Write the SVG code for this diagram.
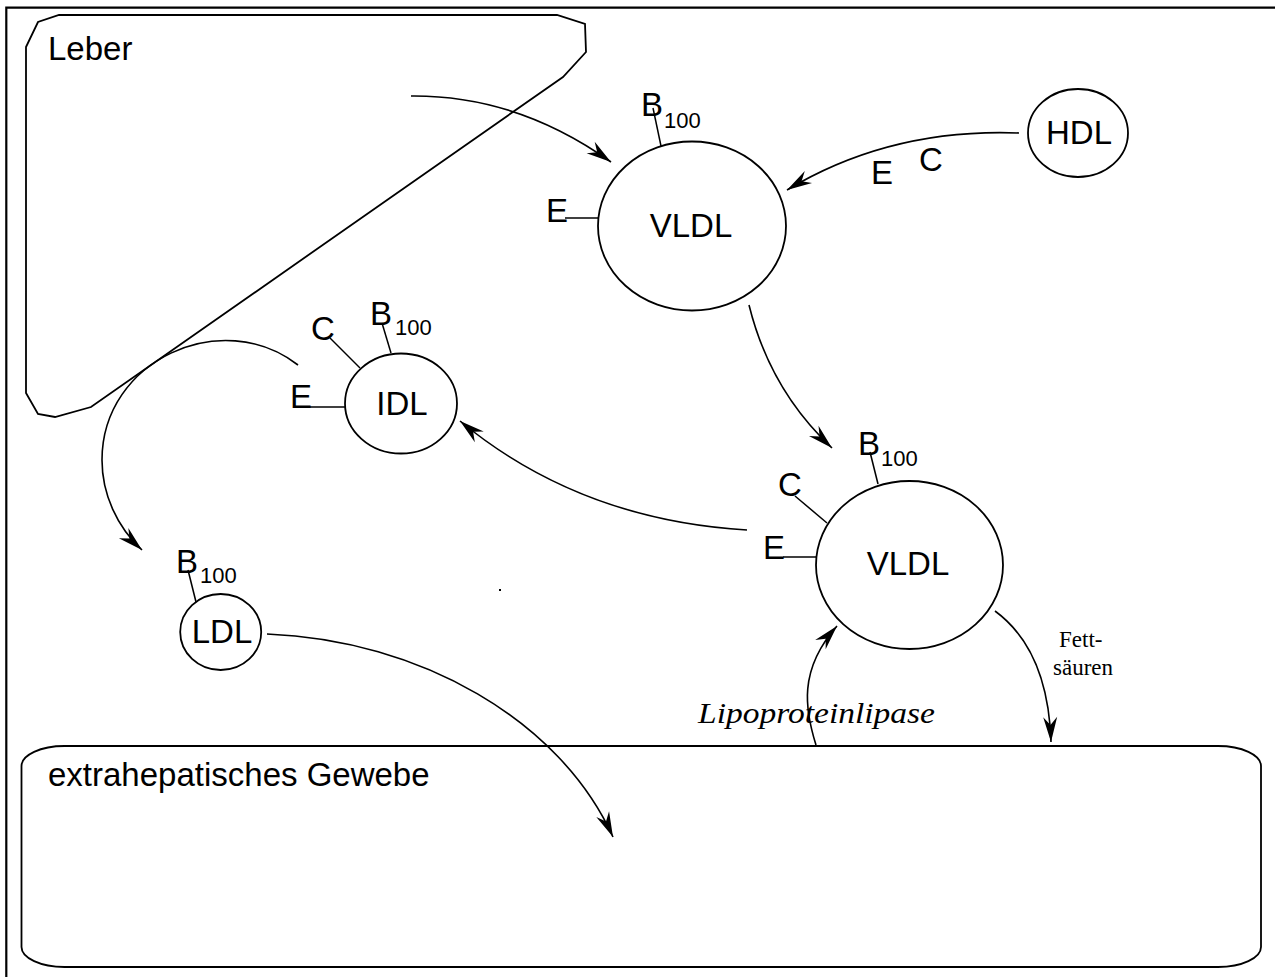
<svg xmlns="http://www.w3.org/2000/svg" width="1275" height="977" viewBox="0 0 1275 977">
<style>
.sh{fill:#fff;stroke:#000;stroke-width:1.8}
.tk{stroke:#000;stroke-width:1.5;fill:none}
.cn{fill:none;stroke:#000;stroke-width:1.6}
.t{font-family:"Liberation Sans",Arial,sans-serif;font-size:33px;fill:#000}
.sub{font-family:"Liberation Sans",Arial,sans-serif;font-size:22px;fill:#000}
.sf{font-family:"Liberation Serif","Times New Roman",serif;font-size:23px;fill:#000}
.it{font-family:"Liberation Serif","Times New Roman",serif;font-size:30px;font-style:italic;fill:#000}
</style>
<defs>
<marker id="ah" markerUnits="userSpaceOnUse" orient="auto" refX="0" refY="0" markerWidth="30" markerHeight="16" overflow="visible">
<path d="M0,0 L-25,-7 L-17,0 L-25,7 Z" fill="#000"/>
</marker>
</defs>
<rect width="1275" height="977" fill="#fff"/>
<path d="M6.3 977 V7.7 H1275" fill="none" stroke="#000" stroke-width="2.2"/>

<g id="leber">
<path class="sh" d="M59 15 L557 15 L585 24 L586 52 L563 77 L91 407 L55 417 L38 414 L26 393 L26 47 L38 22 Z"/>
<text class="t" x="48" y="60">Leber</text>
</g>

<g id="gewebe">
<rect class="sh" x="21.5" y="746" width="1239.5" height="221" rx="43" ry="20"/>
<text class="t" x="48" y="786">extrahepatisches Gewebe</text>
</g>

<g id="connectors">
<path class="cn" d="M411 96 Q517 95 611 162" marker-end="url(#ah)"/>
<path class="cn" d="M1019 133 Q890 128 787 190" marker-end="url(#ah)"/>
<path class="cn" d="M749 305 Q770 390 832 448" marker-end="url(#ah)"/>
<path class="cn" d="M747 530 Q580 520 460 421" marker-end="url(#ah)"/>
<path class="cn" d="M298 365 C222 306 102 360 102 460 C102 494 117 527 142 550" marker-end="url(#ah)"/>
<path class="cn" d="M267 634 C420 640 560 720 613 837" marker-end="url(#ah)"/>
<path class="cn" d="M816 745 C805 710 798 670 837 626" marker-end="url(#ah)"/>
<path class="cn" d="M995 611 Q1048 650 1051 742" marker-end="url(#ah)"/>
</g>

<g id="vldl-top">
<ellipse class="sh" cx="692" cy="226" rx="94" ry="84.5"/>
<text class="t" x="691" y="237" text-anchor="middle">VLDL</text>
<line class="tk" x1="653" y1="108" x2="661" y2="146"/>
<text class="t" x="641" y="116">B</text><text class="sub" x="664" y="128">100</text>
<line class="tk" x1="565" y1="218" x2="599" y2="218"/>
<text class="t" x="546" y="222">E</text>
</g>

<g id="hdl">
<ellipse class="sh" cx="1078" cy="133" rx="50" ry="44"/>
<text class="t" x="1079" y="144" text-anchor="middle">HDL</text>
<text class="t" x="871" y="184">E</text>
<text class="t" x="919" y="171">C</text>
</g>

<g id="vldl-bottom">
<ellipse class="sh" cx="909.5" cy="565" rx="93.5" ry="84"/>
<text class="t" x="908" y="575" text-anchor="middle">VLDL</text>
<line class="tk" x1="870" y1="452" x2="878" y2="484"/>
<text class="t" x="858" y="455">B</text><text class="sub" x="881" y="466">100</text>
<line class="tk" x1="795" y1="496" x2="827" y2="523"/>
<text class="t" x="778" y="496">C</text>
<line class="tk" x1="783" y1="557" x2="817" y2="557"/>
<text class="t" x="763" y="559">E</text>
<text class="sf" x="1059" y="647">Fett-</text>
<text class="sf" x="1053" y="675">säuren</text>
<text class="it" x="698" y="723" textLength="237" lengthAdjust="spacingAndGlyphs">Lipoproteinlipase</text>
</g>

<g id="idl">
<ellipse class="sh" cx="401" cy="403.5" rx="56" ry="50"/>
<text class="t" x="402" y="415" text-anchor="middle">IDL</text>
<line class="tk" x1="382" y1="323" x2="391" y2="353"/>
<text class="t" x="370" y="325">B</text><text class="sub" x="395" y="335">100</text>
<line class="tk" x1="330" y1="338" x2="360" y2="368"/>
<text class="t" x="311" y="340">C</text>
<line class="tk" x1="310" y1="407" x2="345" y2="407"/>
<text class="t" x="290" y="408">E</text>
</g>

<g id="ldl">
<ellipse class="sh" cx="220.7" cy="632" rx="40.5" ry="38"/>
<text class="t" x="222" y="643" text-anchor="middle">LDL</text>
<line class="tk" x1="188" y1="570" x2="196" y2="602"/>
<text class="t" x="176" y="573">B</text><text class="sub" x="200" y="583">100</text>
</g>

<rect x="499" y="589" width="2" height="2" fill="#000"/>
</svg>
